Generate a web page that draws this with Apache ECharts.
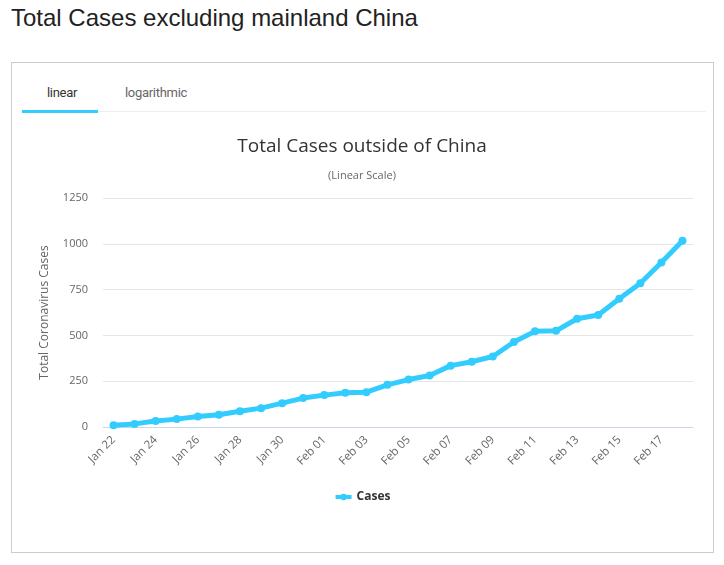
<!DOCTYPE html>
<html>
<head>
<meta charset="utf-8">
<script src="https://cdn.jsdelivr.net/npm/echarts@6/dist/echarts.min.js"></script>
<style>
  html, body { margin: 0; padding: 0; background: #fff; width: 724px; height: 565px; overflow: hidden; }
  #pageTitle { position: absolute; left: 11px; top: 4px; font-family: "Liberation Sans", Arial, sans-serif; font-size: 24px; color: #222; white-space: nowrap; }
  #card { position: absolute; left: 11px; top: 62px; width: 701px; height: 489px; border: 1px solid #cccccc; box-sizing: content-box; }
  #tabline { position: absolute; left: 22px; top: 111px; width: 684px; height: 1px; background: #eeeeee; }
  #tabActive { position: absolute; left: 22px; top: 110px; width: 76px; height: 3px; background: #33ccff; }
  .tab { position: absolute; top: 85px; font-family: Roboto, "Liberation Sans", sans-serif; font-size: 13px; letter-spacing: -0.3px; }
  #chart { position: absolute; left: 0; top: 0; width: 724px; height: 565px; }
</style>
</head>
<body>
<div id="pageTitle">Total Cases excluding mainland China</div>
<div id="card"></div>
<div id="tabline"></div>
<div id="tabActive"></div>
<div class="tab" style="left:47px;color:#333;">linear</div>
<div class="tab" style="left:125px;color:#666;">logarithmic</div>
<div id="chart"></div>
<script>
const categories = [
  "Jan 22","Jan 23","Jan 24","Jan 25","Jan 26","Jan 27","Jan 28","Jan 29","Jan 30","Jan 31",
  "Feb 01","Feb 02","Feb 03","Feb 04","Feb 05","Feb 06","Feb 07","Feb 08","Feb 09","Feb 10",
  "Feb 11","Feb 12","Feb 13","Feb 14","Feb 15","Feb 16","Feb 17","Feb 18"
];
const casesValues = [
  10, 17, 33, 43, 57, 67, 86, 103, 130, 158,
  174, 187, 190, 230, 259, 281, 335, 356, 385, 464,
  522, 525, 591, 611, 700, 785, 898, 1016
];
const yTicks = { min: 0, max: 1250, interval: 250 };
const chartTitle = "Total Cases outside of China";
const chartSubtitle = "(Linear Scale)";
const yAxisName = "Total Coronavirus Cases";
const seriesName = "Cases";

const chart = echarts.init(document.getElementById('chart'), null, { renderer: 'canvas' });
chart.setOption({
  backgroundColor: 'transparent',
  animation: false,
  title: {
    text: chartTitle,
    subtext: chartSubtitle,
    left: 'center',
    top: 132,
    itemGap: 14,
    textStyle: { fontFamily: '"Open Sans", sans-serif', fontSize: 19, fontWeight: 'normal', color: '#333' },
    subtextStyle: { fontFamily: '"Open Sans", sans-serif', fontSize: 11, color: '#666' }
  },
  legend: {
    data: [seriesName],
    bottom: 57,
    left: 'center',
    itemWidth: 16,
    itemHeight: 8,
    lineStyle: { width: 4 },
    textStyle: { fontFamily: '"Open Sans", sans-serif', fontSize: 12, fontWeight: 'bold', color: '#333' }
  },
  grid: { left: 103, right: 31, top: 198, bottom: 138 },
  xAxis: {
    type: 'category',
    data: categories,
    boundaryGap: true,
    axisLine: { lineStyle: { color: '#ccd6eb' } },
    axisTick: { show: false },
    axisLabel: {
      interval: 1,
      rotate: 45,
      margin: 11,
      fontFamily: '"Open Sans", sans-serif',
      fontSize: 11.5,
      color: '#666'
    }
  },
  yAxis: {
    type: 'value',
    min: yTicks.min,
    max: yTicks.max,
    interval: yTicks.interval,
    name: yAxisName,
    nameLocation: 'middle',
    nameGap: 52,
    nameTextStyle: { fontFamily: '"Open Sans", sans-serif', fontSize: 12, color: '#666' },
    axisLine: { show: false },
    axisTick: { show: false },
    splitLine: { lineStyle: { color: '#e6e6e6' } },
    axisLabel: { margin: 15, fontFamily: '"Open Sans", sans-serif', fontSize: 11, color: '#666', formatter: v => String(v) }
  },
  series: [{
    name: seriesName,
    type: 'line',
    data: casesValues,
    symbol: 'circle',
    symbolSize: 8,
    lineStyle: { width: 5, color: '#33ccff' },
    itemStyle: { color: '#33ccff' }
  }]
});
</script>
</body>
</html>
